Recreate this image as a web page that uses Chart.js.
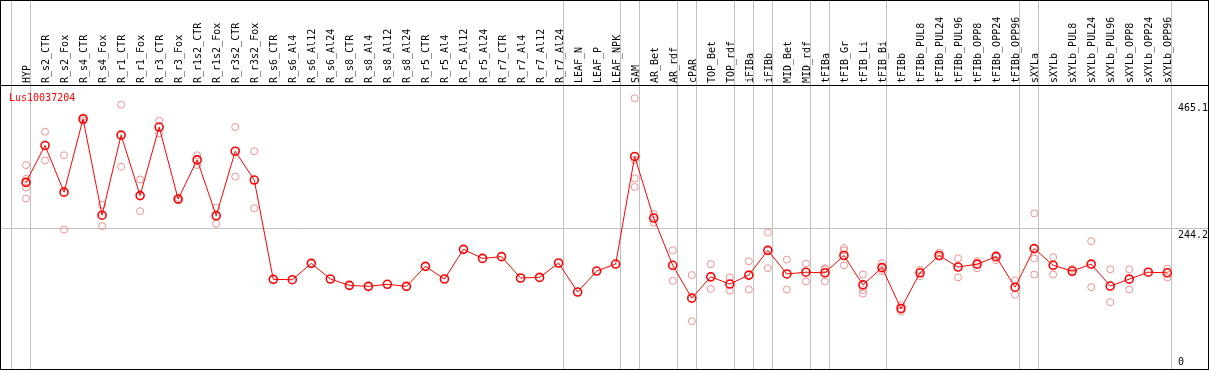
<!DOCTYPE html>
<html>
<head>
<meta charset="utf-8">
<script src="https://cdn.jsdelivr.net/npm/chart.js@4.4.1/dist/chart.umd.min.js"></script>
<style>
  body { margin: 0; background: #fff; }
  canvas { display: block; }
</style>
</head>
<body>
<canvas id="chart" width="1209" height="370"></canvas>
<script>
// categories along the top, in drawing order
const categories = [
  'HYP', 'R_s2_CTR', 'R_s2_Fox', 'R_s4_CTR', 'R_s4_Fox', 'R_r1_CTR', 'R_r1_Fox', 'R_r3_CTR', 'R_r3_Fox',
  'R_r1s2_CTR', 'R_r1s2_Fox', 'R_r3s2_CTR', 'R_r3s2_Fox', 'R_s6_CTR', 'R_s6_Al4', 'R_s6_Al12', 'R_s6_Al24',
  'R_s8_CTR', 'R_s8_Al4', 'R_s8_Al12', 'R_s8_Al24', 'R_r5_CTR', 'R_r5_Al4', 'R_r5_Al12', 'R_r5_Al24',
  'R_r7_CTR', 'R_r7_Al4', 'R_r7_Al12', 'R_r7_Al24', 'LEAF_N', 'LEAF_P', 'LEAF_NPK', 'SAM', 'AR_Bet', 'AR_rdf',
  'cPAR', 'TOP_Bet', 'TOP_rdf', 'iFIBa', 'iFIBb', 'MID_Bet', 'MID_rdf', 'tFIBa', 'tFIB_Gr', 'tFIB_Li', 'tFIB_Bi',
  'tFIBb', 'tFIBb_PUL8', 'tFIBb_PUL24', 'tFIBb_PUL96', 'tFIBb_OPP8', 'tFIBb_OPP24', 'tFIBb_OPP96',
  'sXYLa', 'sXYLb', 'sXYLb_PUL8', 'sXYLb_PUL24', 'sXYLb_PUL96', 'sXYLb_OPP8', 'sXYLb_OPP24', 'sXYLb_OPP96'
];

const seriesName = 'Lus10037204';

// mean expression per category
const meanValues = [
  324, 388, 307, 434, 267, 406, 301, 420, 295, 363, 266, 378, 328,
  155.6, 155, 183.4, 156.2, 145.2, 143.5, 147, 143.5, 178.2, 156.2, 207.7, 192, 195, 158, 159, 184,
  133.6, 170, 182.2, 369, 262, 180, 123, 160, 147.5, 163, 206, 165, 168, 167, 197, 146, 176,
  105, 167, 197, 177, 182, 195, 142, 209, 180, 170, 182, 144, 156, 168, 167
];

// individual replicates (null = none)
const rep1 = [
  354, 412, 371, 437, 285, 459, 329, 431, 297, 371, 280, 420, 378,
  null, null, null, null, null, null, null, null, null, null, null, null, null, null, null, null,
  null, null, null, 470, 269, 206, 163, 182, 159, 187, 237, 190, 183, 175, 210, 164, 184,
  111, 172, 202, 192, 187, 198, 154, 270, 194, 174, 222, 173, 173, null, 174
];
const rep2 = [
  330, 362, 242, 431, 248, 351, 274, 409, 293, 354, 252, 334, 279,
  null, null, null, null, null, null, null, null, null, null, null, null, null, null, null, null,
  null, null, null, 363, 254, 153, 83, 139, 136, 138, 175, 138, 152, 152, 206, 137, 170,
  100, 161, 195, 159, 175, 189, 129, 192, 164, 167, 142, 116, 138, null, 159
];
const rep3 = [
  315, null, null, null, null, null, null, null, null, null, null, null, null,
  null, null, null, null, null, null, null, null, null, null, null, null, null, null, null, null,
  null, null, null, 331, null, null, null, null, null, null, null, null, null, 173, 180, 131, null,
  null, null, null, null, null, null, null, 164, null, null, null, null, null, null, null
];
const rep4 = [
  296, null, null, null, null, null, null, null, null, null, null, null, null,
  null, null, null, null, null, null, null, null, null, null, null, null, null, null, null, null,
  null, null, null, 316, null, null, null, null, null, null, null, null, null, null, null, null, null,
  null, null, null, null, null, null, null, null, null, null, null, null, null, null, null
];

const yTicks = [0, 244.2, 465.1];
// last category index of each group; a grey separator follows it
const groupEnds = [-1, 0, 28, 31, 32, 34, 35, 37, 38, 39, 41, 42, 45, 52, 53, 60];

const FONT = '10px "DejaVu Sans Mono", monospace';

const meanPoints = meanValues.map((v, i) => ({ x: i, y: v }));
const repPoints = [];
[rep1, rep2, rep3, rep4].forEach(rep => {
  rep.forEach((v, i) => {
    if (v !== null) repPoints.push({ x: i, y: v });
  });
});

const framePlugin = {
  id: 'frame',
  beforeDatasetsDraw(chart) {
    const { ctx, chartArea: a, scales: { x, y } } = chart;
    ctx.save();
    ctx.strokeStyle = '#c0c0c0';
    ctx.lineWidth = 1;
    groupEnds.forEach(i => {
      const px = Math.round(x.getPixelForValue(i) + 4) + 0.5;
      ctx.beginPath();
      ctx.moveTo(px, 0);
      ctx.lineTo(px, chart.height);
      ctx.stroke();
    });
    const gy = Math.round(y.getPixelForValue(244.2)) + 0.5;
    ctx.beginPath();
    ctx.moveTo(a.left, gy);
    ctx.lineTo(a.right, gy);
    ctx.stroke();
    ctx.restore();
  },
  afterDraw(chart) {
    const { ctx, chartArea: a, scales: { x, y } } = chart;
    ctx.save();

    ctx.strokeStyle = '#000';
    ctx.lineWidth = 1;
    ctx.strokeRect(0.5, 0.5, chart.width - 1, chart.height - 1);
    ctx.beginPath();
    ctx.moveTo(0, a.top + 0.5);
    ctx.lineTo(chart.width, a.top + 0.5);
    ctx.stroke();

    ctx.font = FONT;
    ctx.fillStyle = '#000';
    ctx.textAlign = 'left';
    ctx.textBaseline = 'alphabetic';
    categories.forEach((label, i) => {
      const px = Math.round(x.getPixelForValue(i)) + 4;
      ctx.save();
      ctx.translate(px, a.top - 2);
      ctx.rotate(-Math.PI / 2);
      ctx.fillText(label, 0, 0);
      ctx.restore();
    });

    yTicks.forEach(v => {
      const py = y.getPixelForValue(v);
      if (py + 12 > a.bottom) {
        ctx.textBaseline = 'bottom';
        ctx.fillText(String(v), 1178, a.bottom - 2);
      } else {
        ctx.textBaseline = 'top';
        ctx.fillText(String(v), 1178, py + 2);
      }
    });

    ctx.fillStyle = '#ff0000';
    ctx.textBaseline = 'alphabetic';
    ctx.fillText(seriesName, 9, a.top + 16);
    ctx.restore();
  }
};

new Chart(document.getElementById('chart'), {
  type: 'scatter',
  data: {
    datasets: [
      {
        label: seriesName,
        type: 'line',
        data: meanPoints,
        borderColor: '#ff0000',
        borderWidth: 1,
        pointRadius: 4,
        pointBorderWidth: 1.6,
        pointBackgroundColor: 'rgba(0,0,0,0)',
        pointBorderColor: '#ff0000',
        showLine: true,
        tension: 0,
        clip: false,
        order: 0
      },
      {
        label: 'replicates',
        data: repPoints,
        pointRadius: 3.5,
        pointBorderWidth: 1,
        pointBackgroundColor: 'rgba(0,0,0,0)',
        pointBorderColor: '#f09090',
        showLine: false,
        clip: false,
        order: 1
      }
    ]
  },
  options: {
    responsive: false,
    devicePixelRatio: 1,
    animation: false,
    layout: { autoPadding: false, padding: { left: 1, right: 1, top: 85, bottom: 1 } },
    plugins: {
      legend: { display: false },
      tooltip: { enabled: false }
    },
    scales: {
      x: { type: 'linear', display: false, min: -1.314, max: 62.14 },
      y: { type: 'linear', display: false, min: 0, max: 493 }
    }
  },
  plugins: [framePlugin]
});
</script>
</body>
</html>
